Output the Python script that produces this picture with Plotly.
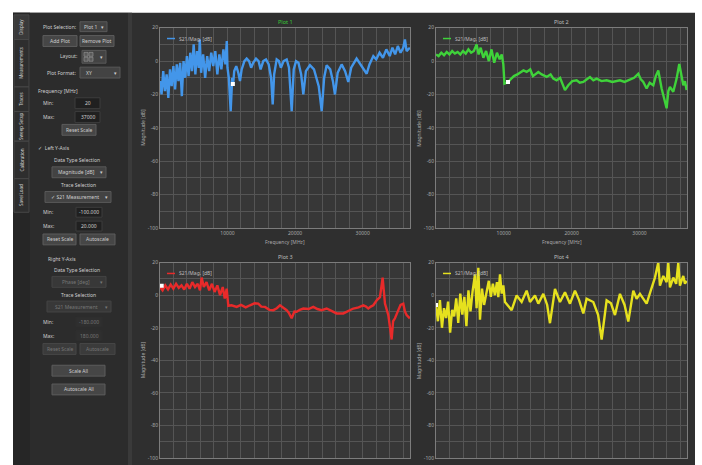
import plotly.graph_objects as go

# ---------------- data ----------------
p1_freq = [20, 250, 500, 750, 1000, 1250, 1500, 1750, 2000, 2250,
           2500, 2750, 3000, 3250, 3500, 3750, 4000, 4250, 4500, 4750,
           5000, 5250, 5500, 5750, 5900, 6100, 6400, 6700, 7000, 7300,
           7600, 7900, 8200, 8500, 8800, 9100, 9400, 9700, 9900, 10000,
           10200, 10475, 10700, 10850, 11000, 11300, 11600, 11850, 12100, 12500,
           12840, 13200, 13500, 13800, 14220, 14600, 14900, 15300, 15700, 16100,
           16450, 16690, 16900, 17280, 17600, 17900, 18300, 18760, 19100, 19500,
           19800, 20140, 20500, 20900, 21220, 21600, 22200, 22800, 23500, 23940,
           24300, 24670, 25200, 25600, 25900, 26300, 26890, 27400, 27870, 28300,
           29100, 29700, 30200, 30590, 31000, 31570, 32000, 32500, 33000, 33500,
           34000, 34400, 34800, 35200, 35600, 36000, 36250, 36500, 36980]
p1_mag = [-12, -20, -6, -18, -8, -22, -5, -15, -3, -17,
          -2, -12, -1, -21, 0, -10, 3, -9, 5, -6,
          10, -8, 6, -4, 13, -7, 4, -10, 3, -6,
          5, -3, 6, -8, 4, -5, 7, -2, 12, -4,
          -10, -30, -10, -13, -6, -3, -7, -12, -5, 0,
          1.5, 0, -4, -1, 1.5, 0, -5, 0, 1, -2,
          -10, -26, -8, 1, 0, -4, 0, 1, -4, -30,
          -5, 0, -1, -8, -20, -6, -2.5, -5, -15, -30,
          -10, -2.5, -5, -12, -20, -7, -2, -6, -12.5, -4,
          1.5, -2, -5, -7.6, -2, 3, 1, 5, 2, 7,
          3, 8, 4, 9, 5, 8, 13, 6, 8]

p2_freq = [20, 400, 800, 1200, 1600, 2000, 2400, 2800, 3200, 3600,
           4000, 4400, 4800, 5200, 5600, 6000, 6300, 6600, 7000, 7400,
           7800, 8200, 8600, 9000, 9400, 9700, 9940, 10100, 10400, 10675,
           11000, 11500, 12000, 12400, 12900, 13375, 13900, 14300, 14600, 15094,
           15600, 16321, 16900, 17300, 17794, 18300, 19022, 19513, 20100, 20740,
           21200, 21722, 22200, 22704, 23200, 23686, 24400, 25159, 26000, 27123,
           27800, 28596, 29200, 29824, 30200, 30560, 31051, 31500, 32033, 32400,
           32770, 33261, 33600, 33997, 34250, 34488, 34979, 35470, 35863, 36200,
           36452, 36700, 36943]
p2_mag = [4, 3, 5, 3.5, 5.5, 4, 6, 4.5, 5.5, 4,
          6, 4.5, 7, 5, 6, 10, 4, 8, 2, 6,
          0, 7, -1, 5, 1, 4, -2, -13.5, -13, -12.5,
          -11, -9, -8, -7, -5.6, -6.5, -5, -9, -8, -6.6,
          -8, -9.5, -8, -10.5, -11.5, -10, -17.4, -14.5, -12, -11.5,
          -13, -12.5, -11, -9.6, -11.5, -10.5, -12, -11.5, -12.5, -11.5,
          -12.5, -11, -10, -7.6, -11, -12.5, -16.4, -13, -14.5, -9,
          -5.6, -16.4, -22, -28.3, -18, -15.5, -18.4, -10.5, -1.7, -9,
          -14.5, -12, -17.4]

p3_freq = [20, 400, 800, 1200, 1600, 2000, 2400, 2800, 3200, 3600,
           4000, 4400, 4800, 5200, 5600, 5936, 6182, 6500, 6900, 7300,
           7700, 8100, 8500, 8900, 9300, 9600, 9880, 10126, 10600, 11359,
           12000, 12700, 13331, 14000, 14564, 15000, 15550, 16200, 16782, 17300,
           17768, 18300, 18754, 19100, 19494, 19900, 20233, 20700, 21219, 22000,
           22698, 23300, 23934, 24670, 25400, 26149, 27135, 27900, 28614, 29400,
           30093, 30500, 30833, 31200, 31572, 32100, 32558, 32952, 33298, 33791,
           34050, 34284, 34500, 34777, 35270, 35600, 36009, 36250, 36502, 36980]
p3_mag = [5, 3, 6, 3.5, 6.5, 4, 7, 4.5, 6, 3.5,
          7, 4, 8, 5, 7, 3, 10.8, 5, 8, 3,
          7, 2, 6, 0, 5, -2, 4, -6.5, -6.2, -7.2,
          -6, -7.5, -6.2, -5, -5.2, -7, -7.2, -9, -9.2, -8,
          -6.2, -8, -9.2, -11, -14.2, -10, -10.2, -9, -8.2, -8.5,
          -7.2, -8.5, -9.2, -8.2, -9.5, -11.2, -11.2, -9.5, -8.2, -7.5,
          -6.2, -7, -8.2, -7, -6.2, -3, -1.2, 10.8, -5.2, -12.2,
          -20, -27.2, -16, -14.2, -9.2, -6, -5.2, -10, -12.2, -14.2]

p4_freq = [20, 300, 600, 900, 1200, 1500, 1800, 2100, 2400, 2700,
           3000, 3300, 3600, 3900, 4200, 4500, 4800, 5100, 5400, 5765,
           6000, 6260, 6500, 6800, 7100, 7483, 7800, 8100, 8400, 8700,
           9000, 9200, 9447, 9700, 9938, 10183, 10920, 11165, 11902, 12640,
           13375, 13866, 14603, 15094, 15830, 16400, 16812, 17549, 18285, 19022,
           19758, 20494, 21100, 21722, 22213, 23195, 23900, 24422, 25159, 25800,
           26386, 27123, 27800, 28350, 29087, 29578, 30069, 31051, 31600, 32033,
           32278, 32770, 33015, 33506, 34000, 34243, 34488, 34979, 35400, 35716,
           35961, 36200, 36452, 36700, 36943]
p4_mag = [-6, -16, -3, -20, -8, -14, -4, -23, -9, -13,
          -2, -17, 1, -12, -1, -19, 3, -10, 2, 12.8,
          -8, 16.8, -15, 4, -6, 2, 8.8, -1, 7, 0,
          8, -1.2, 12.8, 1, 6, -4.2, -8.2, -9.2, -0.2, -4.2,
          2.8, -4.2, -0.2, -5.2, 0.8, -6, -17.2, 3.8, -4.2, 1.8,
          -5.2, 2.8, -3, -11.2, -2.2, -4.2, -12, -27.2, -3.2, -5,
          -12.2, 0.8, -6, -16.2, 2.8, -2.2, 0.8, -5.2, 2, 6.8,
          10.8, 20, 5.8, 11.8, 8, 20, 4.8, 10.8, 7, 19.8,
          5.8, 9, 11.8, 7, 8.8]

cursor_freq = [10800, 10626, 270, 20]
cursor_mag = [-13.7, -12.5, 5.8, -6.0]

plot_titles = ["Plot 1", "Plot 2", "Plot 3", "Plot 4"]
trace_name = "S21/Mag. [dB]"
x_title = "Frequency [MHz]"
y_title = "Magnitude [dB]"
freq_grid = [2000, 4000, 6000, 8000, 10000, 12000, 14000, 16000, 18000,
             20000, 22000, 24000, 26000, 28000, 30000, 32000, 34000, 36000]
freq_labels = ["", "", "", "", "10000", "", "", "", "",
               "20000", "", "", "", "", "30000", "", "", ""]
mag_grid = [-100, -90, -80, -70, -60, -50, -40, -30, -20, -10, 0, 10, 20]
mag_labels = ["-100", "", "-80", "", "-60", "", "-40", "", "-20", "", "0", "", "20"]
freq_range = [20, 37000]
mag_range = [-100, 20]

series = [(p1_freq, p1_mag), (p2_freq, p2_mag), (p3_freq, p3_mag), (p4_freq, p4_mag)]
colors = ["#4396ea", "#3fd23a", "#e82a2a", "#e6e11e"]

# ---------------- styling / geometry ----------------
W, H = 702, 465
BG = "#2f2f2f"
PLOT_BG = "#373737"
GRID = "#555555"
BORDER = "#7c7c7c"
TICK = "#a8a8a8"
TEXT = "#cfcfcf"
DIM = "#777777"
FONT = "Noto Sans, DejaVu Sans"

boxes = [(160, 410, 25, 228), (436, 687, 25, 228), (160, 410, 263, 461), (436, 687, 263, 461)]


def X(p):
    return p / W


def Y(p):
    return 1 - p / H


shapes = []
annots = []


def rect(x0, y0, x1, y1, fill, line=None, lw=1):
    shapes.append(dict(type="rect", xref="paper", yref="paper",
                       x0=X(x0), x1=X(x1), y0=Y(y1), y1=Y(y0),
                       fillcolor=fill,
                       line=dict(color=line if line else fill, width=lw if line else 0),
                       layer="below"))


def label(x, y, s, size=5, color=TEXT, anchor="center", angle=0):
    annots.append(dict(xref="paper", yref="paper", x=X(x), y=Y(y), text=s,
                       showarrow=False, xanchor=anchor, yanchor="middle",
                       textangle=angle, borderpad=0,
                       font=dict(size=size, color=color, family=FONT)))


def button(x0, y0, x1, y1, s, enabled=True):
    rect(x0, y0, x1, y1, "#464646" if enabled else "#3b3b3b", "#5c5c5c" if enabled else "#474747")
    label((x0 + x1) / 2, (y0 + y1) / 2, s, color=TEXT if enabled else DIM)


def entry(x0, y0, x1, y1, s, enabled=True):
    rect(x0, y0, x1, y1, "#202020" if enabled else "#2f2f2f", "#3c3c3c" if enabled else "#2f2f2f")
    label((x0 + x1) / 2, (y0 + y1) / 2, s, color=TEXT if enabled else DIM)


def combo(x0, y0, x1, y1, s, enabled=True):
    rect(x0, y0, x1, y1, "#434343" if enabled else "#383838", "#595959" if enabled else "#444444")
    label((x0 + x1) / 2 - 3, (y0 + y1) / 2, s, color=TEXT if enabled else DIM)
    label(x1 - 5, (y0 + y1) / 2, "▾", color=TEXT if enabled else DIM)


# white margins of the screenshot (extended past the page edge)
rect(-10, -10, W + 10, 10, "white")
rect(-10, -10, 13, H + 10, "white")
rect(695, -10, W + 10, H + 10, "white")

# left side panel
rect(13, 10, 128, H + 10, "#2c2c2c")
rect(128, 10, 132, H + 10, "#3a3a3a")
rect(13, 10, 30, H + 10, "#262626")
tabs = [(12, 37, "Display"), (37, 85, "Measurements"), (85, 110, "Traces"),
        (110, 140, "Sweep Setup"), (140, 178, "Calibration"), (178, 212, "Save/Load")]
for i, (a, b, name) in enumerate(tabs):
    rect(14, a, 29, b, "#3a3a3a" if i == 0 else "#2e2e2e", "#474747")
    label(21.5, (a + b) / 2, name, size=4.5, angle=-90)

label(77, 24, "Plot Selection:", anchor="right")
combo(80, 19, 107, 29, "Plot 1")
button(43, 33, 77, 44, "Add Plot")
button(80, 33, 114, 44, "Remove Plot")
label(78, 54, "Layout:", anchor="right")
rect(82, 48, 106, 61, "#434343", "#595959")
for gx, gy in [(84, 50), (89, 50), (84, 55), (89, 55)]:
    rect(gx, gy, gx + 4, gy + 4, "#5a5a5a", "#9a9a9a", 0.6)
label(101, 54.5, "▾")
label(77, 71, "Plot Format:", anchor="right")
rect(80, 65, 120, 76, "#434343", "#595959")
label(85, 70.5, "XY", anchor="left")
label(115, 70.5, "▾")
label(37, 89, "Frequency [MHz]", anchor="left")
label(42, 101, "Min:", anchor="left")
entry(75, 96, 100, 107, "20")
label(42, 115, "Max:", anchor="left")
entry(75, 110, 100, 121, "37000")
button(62, 123, 96, 134, "Reset Scale")
label(37, 147, "✓  Left Y-Axis", anchor="left")
label(77, 159, "Data Type Selection")
combo(52, 166, 106, 177, "Magnitude [dB]")
label(78, 184, "Trace Selection")
combo(45, 191, 111, 202, "✓ S21 Measurement")
label(42, 212, "Min:", anchor="left")
entry(76, 207, 102, 217, "-100.000")
label(42, 226, "Max:", anchor="left")
entry(76, 221, 102, 231, "20.000")
button(43, 234, 76, 245, "Reset Scale")
button(80, 234, 115, 245, "Autoscale")
label(47, 259, "Right Y-Axis", anchor="left")
label(77, 270, "Data Type Selection")
combo(52, 277, 106, 288, "Phase [deg]", enabled=False)
label(78, 296, "Trace Selection")
combo(47, 302, 111, 313, "S21 Measurement", enabled=False)
label(42, 323, "Min:", anchor="left")
entry(76, 318, 102, 328, "-180.000", enabled=False)
label(42, 337, "Max:", anchor="left")
entry(76, 332, 102, 342, "180.000", enabled=False)
button(43, 345, 76, 356, "Reset Scale", enabled=False)
button(80, 345, 115, 356, "Autoscale", enabled=False)
button(52, 367, 105, 378, "Scale All")
button(52, 386, 105, 397, "Autoscale All")

# ---------------- figure ----------------
fig = go.Figure()
layout_axes = {}
for i, ((fx, fy), col, (l, r, t, b)) in enumerate(zip(series, colors, boxes)):
    n = "" if i == 0 else str(i + 1)
    xa, ya = "x" + n, "y" + n
    fig.add_trace(go.Scatter(x=fx, y=fy, mode="lines", name=trace_name,
                             line=dict(color=col, width=2.4),
                             xaxis=xa, yaxis=ya, showlegend=False, hoverinfo="skip"))
    fig.add_trace(go.Scatter(x=[cursor_freq[i]], y=[cursor_mag[i]], mode="markers",
                             marker=dict(symbol="square", size=4, color="white"),
                             xaxis=xa, yaxis=ya, showlegend=False, hoverinfo="skip"))
    show_x = i < 2
    layout_axes["xaxis" + n] = dict(
        domain=[X(l), X(r)], anchor=ya, range=freq_range, autorange=False,
        tickmode="array", tickvals=freq_grid,
        ticktext=freq_labels if show_x else [""] * len(freq_grid),
        showgrid=True, gridcolor=GRID, gridwidth=1, zeroline=False,
        showline=True, mirror=True, linecolor=BORDER, linewidth=1, ticks="",
        tickfont=dict(size=5, color=TICK, family=FONT), fixedrange=True)
    layout_axes["yaxis" + n] = dict(
        domain=[Y(b), Y(t)], anchor=xa, range=mag_range, autorange=False,
        tickmode="array", tickvals=mag_grid, ticktext=mag_labels,
        showgrid=True, gridcolor=GRID, gridwidth=1, zeroline=False,
        showline=True, mirror=True, linecolor=BORDER, linewidth=1, ticks="",
        tickfont=dict(size=5, color=TICK, family=FONT), fixedrange=True)
    cx, cy = (l + r) / 2, (t + b) / 2
    label(cx, t - 6, plot_titles[i], size=5.5, color="#37c837" if i == 0 else "#bdbdbd")
    if show_x:
        label(cx, b + 14, x_title, size=5, color=TICK)
    label(l - 17, cy, y_title, size=5, color=TICK, angle=-90)
    # per-plot legend entry
    shapes.append(dict(type="line", xref="paper", yref="paper",
                       x0=X(l + 7), x1=X(l + 15), y0=Y(t + 11), y1=Y(t + 11),
                       line=dict(color=col, width=1.5)))
    label(l + 18, t + 11, trace_name, size=5, color="#bdbdbd", anchor="left")

fig.update_layout(
    width=W, height=H, margin=dict(l=0, r=0, t=0, b=0),
    paper_bgcolor=BG, plot_bgcolor=PLOT_BG,
    showlegend=False, shapes=shapes, annotations=annots,
    font=dict(family=FONT),
    **layout_axes)

fig.write_html("out.html", config={"displayModeBar": False},
               post_script="document.body.style.margin='0';document.body.style.overflow='hidden';")
